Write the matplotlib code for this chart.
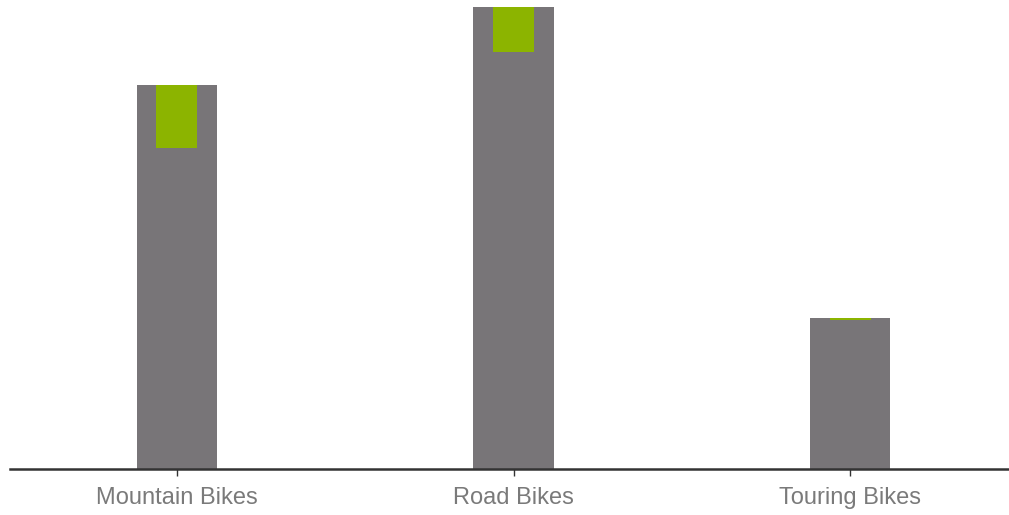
import numpy as np
import matplotlib
matplotlib.use("Agg")
import matplotlib.pyplot as plt

# data (arbitrary units)
categories = ["Mountain Bikes", "Road Bikes", "Touring Bikes"]
actual = [9.60, 11.55, 3.78]
previous = [8.03, 10.43, 3.73]

grey = "#787578"
green = "#8cb400"

fig = plt.figure(figsize=(10.09, 5.15), dpi=100)
ax = fig.add_axes([10 / 1009, 46 / 515, 999 / 1009, 469 / 515])

x = np.arange(len(categories))
ax.bar(x, actual, width=0.238, color=grey, zorder=2)
diff = [a - p for a, p in zip(actual, previous)]
ax.bar(x, diff, bottom=previous, width=0.122, color=green, zorder=3)

ax.set_xlim(-0.496, 2.472)
ax.set_ylim(0, 11.725)

for s in ["top", "right", "left"]:
    ax.spines[s].set_visible(False)
ax.spines["bottom"].set_color("#333333")
ax.spines["bottom"].set_linewidth(1.8)
ax.spines["bottom"].set_zorder(4)

ax.set_yticks([])
ax.set_xticks(x)
ax.set_xticklabels(categories, fontsize=17, color="#7a7a7a", family="Liberation Sans")
ax.tick_params(axis="x", length=5, width=1, color="#333333", pad=8)

fig.savefig("out.png", dpi=100)
